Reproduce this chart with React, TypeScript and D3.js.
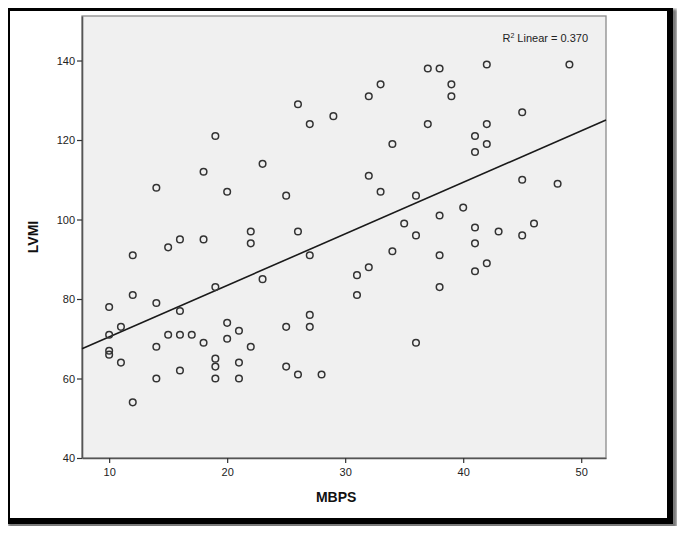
import React, { useEffect, useRef } from 'react';
import * as d3 from 'd3';

// MBPS (x) and LVMI (y)
const mbps = [
  10, 10, 10, 10, 11, 11, 12, 12, 12, 14, 14, 14, 14, 15, 15, 16, 16, 16, 16, 17,
  18, 18, 18, 19, 19, 19, 19, 19, 20, 20, 20, 21, 21, 21, 22, 22, 22, 23, 23, 25,
  25, 25, 26, 26, 26, 27, 27, 27, 27, 28, 29, 31, 31, 32, 32, 32, 33, 33, 34, 34,
  35, 36, 36, 36, 37, 37, 38, 38, 38, 38, 39, 39, 40, 41, 41, 41, 41, 41, 42, 42,
  42, 42, 43, 45, 45, 45, 46, 48, 49,
];
const lvmi = [
  78, 71, 67, 66, 73, 64, 91, 81, 54, 108, 79, 68, 60, 93, 71, 95, 77, 71, 62, 71,
  112, 95, 69, 121, 83, 65, 63, 60, 107, 74, 70, 72, 64, 60, 97, 94, 68, 114, 85, 106,
  73, 63, 129, 97, 61, 124, 91, 76, 73, 61, 126, 86, 81, 131, 111, 88, 134, 107, 119, 92,
  99, 106, 96, 69, 138, 124, 138, 101, 91, 83, 134, 131, 103, 121, 117, 98, 94, 87, 139, 124,
  119, 89, 97, 127, 110, 96, 99, 109, 139,
];
const xTicks = [10, 20, 30, 40, 50];
const yTicks = [40, 60, 80, 100, 120, 140];
const xDomain = [7.7, 52.1];
const yDomain = [40, 151.2];
const r2Label = '0.370';

const W = 685;
const H = 534;
const plot = { left: 82, right: 606, top: 16, bottom: 458 };

const Chart = () => {
  const ref = useRef<SVGSVGElement>(null);

  useEffect(() => {
    const svg = d3.select(ref.current);
    svg.selectAll('*').remove();

    const defs = svg.append('defs');
    defs.append('filter').attr('id', 'shadow')
      .append('feGaussianBlur').attr('stdDeviation', 1.5);

    // drop shadow + black frame
    svg.append('rect')
      .attr('x', 11).attr('y', 12).attr('width', 663).attr('height', 513)
      .attr('fill', 'none').attr('stroke', '#777').attr('stroke-width', 6)
      .attr('filter', 'url(#shadow)');
    svg.append('rect')
      .attr('x', 0).attr('y', 0).attr('width', W).attr('height', H)
      .attr('fill', 'none');
    svg.append('rect')
      .attr('x', 10).attr('y', 11).attr('width', 660).attr('height', 510)
      .attr('fill', '#fff');
    svg.append('rect')
      .attr('x', 7).attr('y', 8).attr('width', 663).attr('height', 513)
      .attr('fill', 'none').attr('stroke', '#000').attr('stroke-width', 6);

    const x = d3.scaleLinear().domain(xDomain).range([plot.left, plot.right]);
    const y = d3.scaleLinear().domain(yDomain).range([plot.bottom, plot.top]);

    svg.append('rect')
      .attr('x', plot.left).attr('y', plot.top)
      .attr('width', plot.right - plot.left).attr('height', plot.bottom - plot.top)
      .attr('fill', '#f0f0f0').attr('stroke', '#8a8a8a').attr('stroke-width', 1.3);

    const font = 'Arial, "Liberation Sans", sans-serif';

    const xAxis = svg.append('g')
      .attr('transform', `translate(0,${plot.bottom})`)
      .call(d3.axisBottom(x).tickValues(xTicks).tickSize(5).tickSizeOuter(0));
    const yAxis = svg.append('g')
      .attr('transform', `translate(${plot.left},0)`)
      .call(d3.axisLeft(y).tickValues(yTicks).tickSize(5).tickSizeOuter(0));

    [xAxis, yAxis].forEach(a => {
      a.select('.domain').attr('stroke', '#555').attr('stroke-width', 1.6);
      a.selectAll('.tick line').attr('stroke', '#333').attr('stroke-width', 1.2);
      a.selectAll('.tick text')
        .attr('fill', '#222').style('font-family', font).style('font-size', '11px');
    });
    xAxis.selectAll('.tick text').attr('dy', '0.9em');
    yAxis.selectAll('.tick text').attr('dx', '0.1em');

    // least-squares fit line
    const mx = d3.mean(mbps) as number;
    const my = d3.mean(lvmi) as number;
    let sxy = 0, sxx = 0;
    mbps.forEach((v, i) => { sxy += (v - mx) * (lvmi[i] - my); sxx += (v - mx) * (v - mx); });
    const slope = sxy / sxx;
    const icpt = my - slope * mx;
    const fit = d3.line<number>().x(d => x(d)).y(d => y(icpt + slope * d));
    svg.append('path')
      .datum(xDomain)
      .attr('d', fit)
      .attr('fill', 'none').attr('stroke', '#1a1a1a').attr('stroke-width', 1.6);

    svg.append('g')
      .selectAll('circle')
      .data(mbps.map((v, i) => [v, lvmi[i]]))
      .join('circle')
      .attr('cx', d => x(d[0]))
      .attr('cy', d => y(d[1]))
      .attr('r', 3.3)
      .attr('fill', 'none')
      .attr('stroke', '#333')
      .attr('stroke-width', 1.5);

    const r2 = svg.append('text')
      .attr('x', 588).attr('y', 42)
      .attr('text-anchor', 'end')
      .style('font-family', font).style('font-size', '11px')
      .attr('fill', '#222');
    r2.append('tspan').text('R');
    r2.append('tspan').attr('dy', -4).style('font-size', '7px').text('2');
    r2.append('tspan').attr('dy', 4).text(` Linear = ${r2Label}`);

    svg.append('text')
      .attr('x', (x(10) + x(50)) / 2 - 9).attr('y', 502)
      .attr('text-anchor', 'middle')
      .style('font-family', font).style('font-size', '14px').style('font-weight', 'bold')
      .attr('fill', '#111')
      .text('MBPS');

    svg.append('text')
      .attr('transform', `translate(38,237) rotate(-90)`)
      .attr('text-anchor', 'middle')
      .style('font-family', font).style('font-size', '14px').style('font-weight', 'bold')
      .attr('fill', '#111')
      .text('LVMI');
  }, []);

  return <svg ref={ref} width={W} height={H} style={{ display: 'block' }} />;
};

export default function App() {
  return (
    <div style={{ margin: -8 }}>
      <Chart />
    </div>
  );
}
